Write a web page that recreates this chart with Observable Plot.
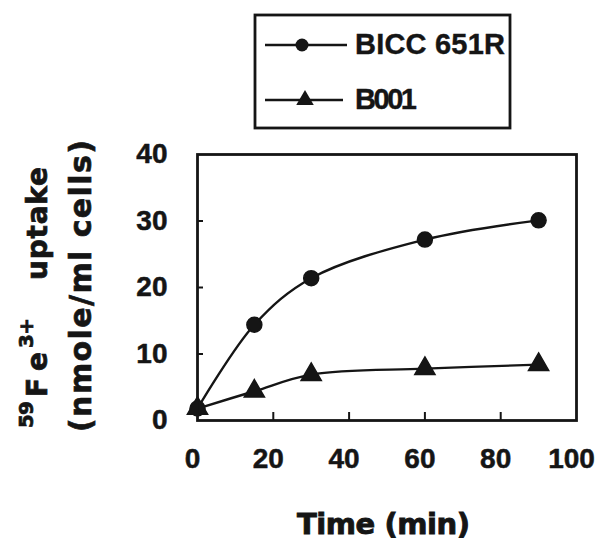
<!DOCTYPE html>
<html><head><meta charset="utf-8">
<script src="https://cdn.jsdelivr.net/npm/d3@7"></script>
<script src="https://cdn.jsdelivr.net/npm/@observablehq/plot@0.6"></script>
<style>body{margin:0;background:#fff}</style>
</head><body><div id="chart"></div>
<script>
const time = [0, 15, 30, 60, 90];
const bicc651R = [1.8, 14.4, 21.4, 27.2, 30.1];
const b001 = [1.8, 4.4, 6.9, 7.8, 8.4];
const seriesNames = ["BICC 651R", "B001"];
const xTicks = [0, 20, 40, 60, 80, 100];
const yTicks = [0, 10, 20, 30, 40];
const xInnerTicks = [20, 40, 60, 80];
const yInnerTicks = [10, 20, 30];
const xLabel = "Time (min)";
const yLabelParts = ["59", "Fe", "3+", "uptake"];
const yLabelLine2 = "(nmole/ml cells)";

const rows = [
  ...time.map((t, i) => ({time: t, value: bicc651R[i], series: seriesNames[0]})),
  ...time.map((t, i) => ({time: t, value: b001[i], series: seriesNames[1]}))
];

const W = 599, H = 540, mL = 197, mR = 23, mT = 154, mB = 120;
const fw = W - mL - mR, fh = H - mT - mB;
const ink = "#151515";
const tickFont = "Liberation Sans, Arial, sans-serif";
const titleFont = "DejaVu Sans, sans-serif";

const plot = Plot.plot({
  width: W, height: H,
  marginLeft: mL, marginRight: mR, marginTop: mT, marginBottom: mB,
  x: {domain: [0, 100], axis: null},
  y: {domain: [0, 40], axis: null},
  symbol: {domain: seriesNames, range: ["circle", "triangle"]},
  style: {background: "#fff", overflow: "visible"},
  marks: [
    Plot.line(rows, {x: "time", y: "value", z: "series", curve: "catmull-rom", stroke: ink, strokeWidth: 2.4}),
    Plot.dot(rows, {x: "time", y: "value", symbol: "series", fill: ink, stroke: ink, strokeWidth: 1.5, r: 7.5}),
    Plot.tickX(xInnerTicks, {x: d => d, insetTop: fh - 8, stroke: ink, strokeWidth: 2}),
    Plot.tickY(yInnerTicks, {y: d => d, insetRight: fw - 6, stroke: ink, strokeWidth: 2}),
    Plot.frame({stroke: ink, strokeWidth: 2.8}),
    Plot.text(xTicks, {x: d => d, text: d => String(d), frameAnchor: "bottom", dy: 47, dx: -5,
      fontSize: 28, fontWeight: "bold", fontFamily: tickFont, fill: ink, stroke: ink, strokeWidth: 0.5}),
    Plot.text(yTicks, {y: d => d, text: d => String(d), frameAnchor: "left", textAnchor: "end", dx: -30,
      fontSize: 28, fontWeight: "bold", fontFamily: tickFont, fill: ink, stroke: ink, strokeWidth: 0.5})
  ]
});

const svg = d3.select(plot);

// y-axis title, line 1 (rotated)
const g1 = svg.append("g").attr("transform", "translate(47,0) rotate(-90)")
  .attr("font-family", titleFont).attr("font-weight", "bold").attr("fill", ink)
  .attr("stroke", ink).attr("stroke-width", 0.7).attr("text-anchor", "start");
const parts1 = [
  {t: yLabelParts[0], x: -428, len: 27, fs: 20, dy: -14},
  {t: yLabelParts[1], x: -397, len: 45, fs: 28, dy: 0},
  {t: yLabelParts[2], x: -348, len: 30, fs: 20, dy: -14},
  {t: yLabelParts[3], x: -280, len: 113, fs: 28, dy: 0}
];
parts1.forEach(p => {
  g1.append("text").attr("x", p.x).attr("y", p.dy).attr("font-size", p.fs)
    .attr("text-anchor", "start")
    .attr("textLength", p.len).attr("lengthAdjust", "spacing").text(p.t);
});
// line 2
svg.append("g").attr("transform", "translate(91,0) rotate(-90)")
  .append("text").attr("x", -432).attr("y", 0).attr("text-anchor", "start")
  .attr("font-family", titleFont).attr("font-weight", "bold").attr("font-size", 30).attr("fill", ink)
  .attr("stroke", ink).attr("stroke-width", 0.7)
  .attr("textLength", 292).attr("lengthAdjust", "spacing").text(yLabelLine2);

// x-axis title
svg.append("text").attr("x", 297).attr("y", 534).attr("text-anchor", "start")
  .attr("font-family", titleFont).attr("font-weight", "bold").attr("font-size", 29).attr("fill", ink)
  .attr("stroke", ink).attr("stroke-width", 0.9)
  .attr("textLength", 173).attr("lengthAdjust", "spacing").text(xLabel);

// legend
const lg = svg.append("g");
lg.append("rect").attr("x", 255).attr("y", 15).attr("width", 255).attr("height", 113)
  .attr("fill", "none").attr("stroke", ink).attr("stroke-width", 2.8);
const legendRows = [
  {name: seriesNames[0], y: 45, x2: 347, mx: 302, sym: d3.symbolCircle, len: 150},
  {name: seriesNames[1], y: 100, x2: 343, mx: 305, sym: d3.symbolTriangle, len: 62}
];
legendRows.forEach(r => {
  lg.append("line").attr("x1", 265).attr("x2", r.x2).attr("y1", r.y).attr("y2", r.y)
    .attr("stroke", ink).attr("stroke-width", 2.4);
  lg.append("path").attr("transform", `translate(${r.mx},${r.y})`)
    .attr("d", d3.symbol(r.sym, Math.PI * 6.5 * 6.5)()).attr("fill", ink);
  lg.append("text").attr("x", 355).attr("y", r.y + 8.5).attr("text-anchor", "start")
    .attr("font-family", tickFont).attr("font-weight", "bold").attr("font-size", 29).attr("fill", ink)
    .attr("stroke", ink).attr("stroke-width", 0.4)
    .attr("textLength", r.len).attr("lengthAdjust", "spacing").text(r.name);
});

document.getElementById("chart").appendChild(plot);
</script>
</body></html>
